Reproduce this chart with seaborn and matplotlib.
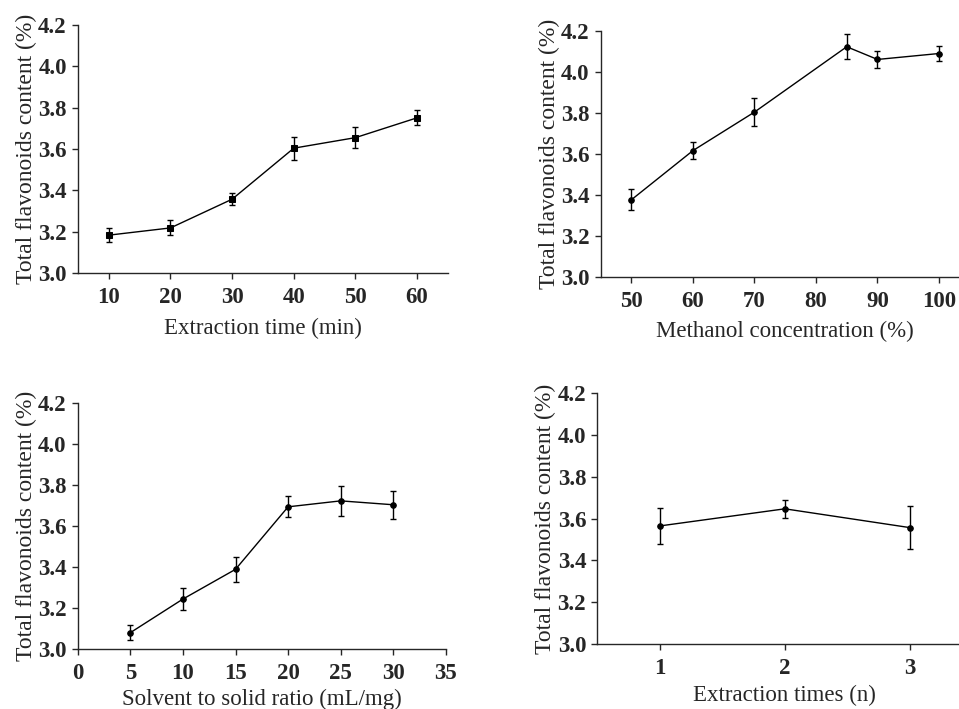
import matplotlib
matplotlib.use("Agg")
import matplotlib.pyplot as plt
import seaborn as sns
import pandas as pd

# panel a: extraction time
time_min = [10, 20, 30, 40, 50, 60]
time_mean = [3.183, 3.218, 3.357, 3.604, 3.655, 3.751]
time_sd = [0.035, 0.036, 0.030, 0.055, 0.050, 0.036]

# panel b: methanol concentration
meoh_pct = [50, 60, 70, 85, 90, 100]
meoh_mean = [3.376, 3.616, 3.804, 4.123, 4.061, 4.090]
meoh_sd = [0.050, 0.040, 0.068, 0.060, 0.040, 0.035]

# panel c: solvent to solid ratio
ratio = [5, 10, 15, 20, 25, 30]
ratio_mean = [3.081, 3.245, 3.390, 3.695, 3.724, 3.705]
ratio_sd = [0.038, 0.055, 0.060, 0.052, 0.072, 0.069]

# panel d: extraction times
times_n = [1, 2, 3]
times_mean = [3.565, 3.647, 3.557]
times_sd = [0.088, 0.042, 0.104]

ylabel = "Total flavonoids content (%)"
yticks = [3.0, 3.2, 3.4, 3.6, 3.8, 4.0, 4.2]

sns.set_style("ticks")
plt.rcParams['font.family'] = ['Liberation Serif', 'DejaVu Serif']
plt.rcParams['axes.linewidth'] = 1.0

fig = plt.figure(figsize=(9.59, 7.09), dpi=100)

panels = [
    dict(pos=[0.0813, 0.615, 0.3858, 0.3497], x=time_min, y=time_mean, e=time_sd,
         marker="s", xlim=(5, 65), xticks=time_min, xlabel="Extraction time (min)", lp=7),
    dict(pos=[0.6264, 0.6097, 0.3848, 0.3466], x=meoh_pct, y=meoh_mean, e=meoh_sd,
         marker="o", xlim=(45, 105), xticks=[50, 60, 70, 80, 90, 100],
         xlabel="Methanol concentration (%)", lp=7),
    dict(pos=[0.0810, 0.0842, 0.3840, 0.3470], x=ratio, y=ratio_mean, e=ratio_sd,
         marker="o", xlim=(0, 35), xticks=[0, 5, 10, 15, 20, 25, 30, 35],
         xlabel="Solvent to solid ratio (mL/mg)", lp=3),
    dict(pos=[0.6228, 0.0917, 0.3912, 0.3536], x=times_n, y=times_mean, e=times_sd,
         marker="o", xlim=(0.5, 3.5), xticks=times_n, xlabel="Extraction times (n)", lp=4),
]

for p in panels:
    ax = fig.add_axes(p["pos"])
    df = pd.DataFrame({"x": p["x"], "y": p["y"]})
    ax.errorbar(p["x"], p["y"], yerr=p["e"], fmt="none", ecolor="black",
                elinewidth=1.0, capsize=2.5, capthick=1.0)
    sns.lineplot(data=df, x="x", y="y", ax=ax, color="black", linewidth=1.0,
                 marker=p["marker"], markersize=4.5 if p["marker"] == "s" else 4,
                 markeredgecolor="black", markerfacecolor="black")
    ax.set_xlim(*p["xlim"])
    ax.set_ylim(3.0, 4.2)
    ax.set_xticks(p["xticks"])
    ax.set_yticks(yticks)
    ax.set_yticklabels([f"{v:.1f}" for v in yticks])
    ax.tick_params(axis="both", length=4, width=1.0, labelsize=16.5)
    ax.tick_params(axis="x", pad=6)
    ax.tick_params(axis="y", pad=4)
    for lab in ax.get_xticklabels() + ax.get_yticklabels():
        lab.set_fontweight("bold")
    ax.set_xlabel(p["xlabel"], fontsize=16.5, labelpad=p["lp"])
    ax.set_ylabel(ylabel, fontsize=17, labelpad=1)
    sns.despine(ax=ax)

fig.savefig("out.png", dpi=100)
